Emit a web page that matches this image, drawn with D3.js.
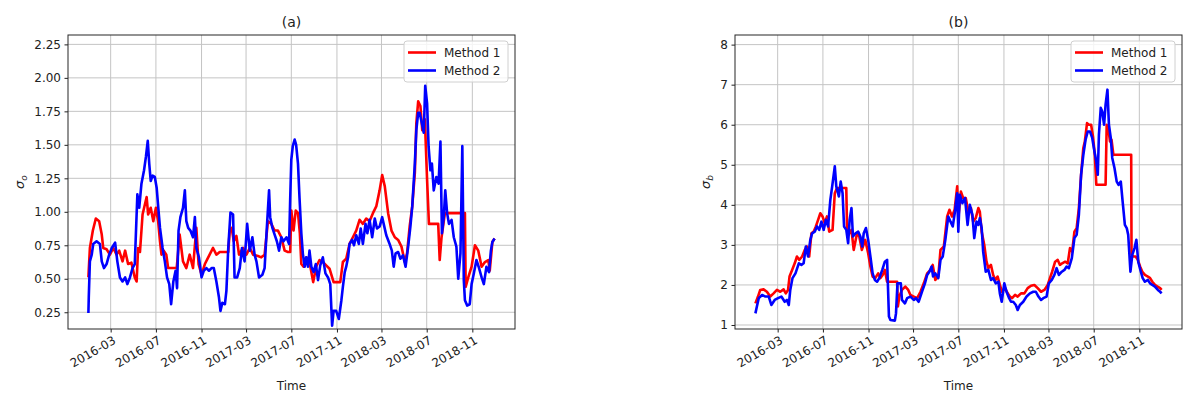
<!DOCTYPE html>
<html>
<head>
<meta charset="utf-8">
<script src="https://cdn.jsdelivr.net/npm/d3@7"></script>
<style>
  body { margin: 0; background: #fff; }
  text { font-family: "DejaVu Sans", sans-serif; }
</style>
</head>
<body>
<script>
// every series is a list of [days since startDate, value]
const startDate = "2016-01-01";
const tickLabels = ["2016-03", "2016-07", "2016-11", "2017-03", "2017-07", "2017-11", "2018-03", "2018-07", "2018-11"];
const yTicksA = [0.25, 0.5, 0.75, 1.0, 1.25, 1.5, 1.75, 2.0, 2.25];
const yTicksB = [1, 2, 3, 4, 5, 6, 7, 8];
const seriesNames = ["Method 1", "Method 2"];

// (a) sigma_o
const sigmaO_m1 = [[0,0.51],[4,0.73],[12,0.86],[20,0.95],[29,0.93],[36,0.83],[40,0.73],[49,0.72],[58,0.68],[67,0.73],
  [76,0.68],[83,0.71],[92,0.63],[99,0.71],[107,0.61],[116,0.62],[125,0.51],[130,0.48],[134,0.73],[139,0.70],
  [146,0.98],[157,1.11],[161,0.98],[168,1.03],[175,0.93],[182,1.03],[188,0.93],[193,0.78],[197,0.68],[203,0.71],
  [210,0.68],[215,0.58],[238,0.58],[246,0.83],[255,0.63],[264,0.58],[273,0.68],[282,0.58],[291,0.88],[297,0.61],
  [305,0.53],[314,0.61],[323,0.66],[336,0.73],[345,0.68],[354,0.70],[377,0.70],[381,0.86],[386,0.88],[392,0.78],
  [399,0.82],[406,0.68],[417,0.73],[426,0.68],[435,0.73],[444,0.68],[457,0.67],[466,0.66],[475,0.68],[484,0.93],
  [493,0.91],[502,0.86],[511,0.86],[520,0.81],[529,0.71],[538,0.70],[544,0.70],[547,1.01],[553,0.86],[559,1.01],
  [565,0.99],[570,0.84],[574,0.61],[580,0.59],[588,0.66],[597,0.61],[606,0.475],[614,0.59],[623,0.64],[632,0.625],
  [641,0.60],[650,0.575],[661,0.475],[679,0.475],[686,0.625],[695,0.65],[704,0.76],[713,0.81],[722,0.86],[731,0.94],
  [740,0.91],[749,0.95],[758,0.93],[767,0.99],[776,1.04],[785,1.16],[792,1.275],[799,1.19],[808,0.99],[817,0.86],
  [826,0.81],[835,0.79],[844,0.74],[853,0.625],[859,0.69],[866,0.89],[873,1.04],[880,1.29],[884,1.66],[889,1.825],
  [895,1.79],[900,1.61],[907,1.69],[913,1.24],[918,0.91],[943,0.91],[947,0.64],[952,0.81],[961,0.99],[972,0.99],
  [1015,0.99],[1017,0.44],[1024,0.51],[1033,0.59],[1042,0.75],[1051,0.71],[1060,0.59],[1069,0.625],[1078,0.64],
  [1082,0.56],[1089,0.775],[1095,0.80]];
const sigmaO_m2 = [[0,0.245],[1,0.36],[4,0.63],[9,0.68],[13,0.76],[22,0.78],[31,0.76],[36,0.63],[42,0.58],[49,0.61],
  [56,0.68],[63,0.73],[72,0.77],[78,0.63],[85,0.51],[92,0.48],[99,0.51],[105,0.46],[112,0.51],[119,0.58],
  [125,0.61],[132,1.13],[137,1.03],[143,1.21],[150,1.31],[155,1.41],[160,1.53],[164,1.36],[168,1.23],[173,1.27],
  [179,1.26],[184,1.18],[189,1.01],[193,0.88],[200,0.73],[206,0.63],[212,0.51],[218,0.46],[223,0.31],[229,0.48],
  [235,0.56],[239,0.43],[243,0.86],[248,0.96],[255,1.03],[260,1.16],[264,0.93],[269,0.88],[275,0.86],[282,0.81],
  [287,0.96],[291,0.73],[298,0.66],[305,0.51],[311,0.56],[318,0.58],[325,0.56],[332,0.58],[338,0.58],[345,0.48],
  [352,0.36],[356,0.26],[361,0.32],[368,0.31],[372,0.41],[377,0.73],[383,0.995],[390,0.98],[394,0.51],[401,0.51],
  [408,0.58],[414,0.73],[421,0.63],[428,0.91],[435,0.71],[442,0.81],[448,0.68],[453,0.63],[460,0.51],[469,0.53],
  [475,0.58],[481,0.88],[487,1.16],[490,0.96],[496,0.88],[502,0.83],[508,0.78],[514,0.71],[520,0.81],[526,0.78],
  [534,0.81],[541,0.76],[544,1.10],[547,1.39],[551,1.49],[556,1.54],[560,1.50],[565,1.36],[569,1.11],[574,0.84],
  [578,0.69],[583,0.59],[587,0.66],[592,0.59],[596,0.71],[601,0.59],[607,0.55],[613,0.61],[619,0.49],[625,0.60],
  [632,0.66],[639,0.54],[646,0.51],[652,0.46],[657,0.15],[661,0.26],[668,0.26],[675,0.20],[682,0.34],[686,0.44],
  [691,0.55],[695,0.59],[700,0.66],[704,0.76],[711,0.79],[716,0.75],[722,0.825],[729,0.76],[734,0.875],[740,0.76],
  [747,0.91],[752,0.84],[758,0.94],[765,0.81],[772,0.95],[778,0.875],[785,0.89],[792,0.96],[796,0.91],[803,0.825],
  [812,0.76],[818,0.71],[823,0.59],[828,0.69],[835,0.70],[841,0.65],[848,0.675],[855,0.59],[862,0.74],[868,0.89],
  [873,1.04],[880,1.36],[884,1.61],[889,1.74],[893,1.74],[899,1.66],[904,1.59],[908,1.94],[913,1.81],[917,1.49],
  [922,1.31],[926,1.36],[931,1.16],[938,1.26],[944,1.21],[949,1.525],[953,0.84],[958,0.96],[962,1.16],[967,0.99],
  [972,0.91],[979,0.94],[985,0.81],[992,0.74],[997,0.50],[1003,0.69],[1008,1.49],[1012,0.49],[1015,0.34],[1021,0.30],
  [1028,0.31],[1033,0.46],[1039,0.54],[1046,0.64],[1052,0.59],[1060,0.51],[1066,0.46],[1073,0.59],[1080,0.55],
  [1085,0.71],[1089,0.775],[1095,0.80]];

// (b) sigma_b
const sigmaB_m1 = [[0,1.54],[7,1.71],[13,1.875],[22,1.89],[31,1.83],[40,1.71],[49,1.79],[58,1.875],[67,1.83],[76,1.89],
  [82,1.79],[88,1.875],[92,2.21],[99,2.375],[106,2.54],[112,2.71],[118,2.625],[126,2.71],[133,2.875],[139,2.96],
  [145,2.71],[151,3.29],[157,3.33],[163,3.46],[169,3.625],[175,3.79],[181,3.71],[187,3.54],[193,3.71],[199,3.33],
  [208,3.375],[214,4.29],[220,4.42],[245,4.42],[247,3.46],[251,3.25],[259,3.375],[265,2.875],[274,3.29],[280,3.21],
  [287,2.875],[296,3.125],[304,2.79],[310,2.46],[316,2.21],[323,2.17],[331,2.29],[337,2.17],[343,2.25],[349,2.375],
  [355,2.08],[382,2.08],[384,1.46],[388,1.71],[395,1.875],[404,1.96],[412,1.875],[418,1.75],[427,1.71],[436,1.67],
  [445,1.83],[454,2.04],[463,2.29],[472,2.375],[478,2.5],[485,2.125],[493,2.21],[499,2.875],[508,2.96],[517,3.71],
  [523,3.875],[530,3.71],[537,3.875],[544,4.46],[547,3.67],[554,4.33],[560,4.17],[567,4.17],[574,3.83],[581,3.92],
  [587,3.58],[594,3.67],[601,3.92],[605,3.83],[610,3.33],[617,3.0],[623,2.58],[628,2.42],[635,2.5],[641,2.25],
  [647,2.125],[653,2.21],[659,2.0],[665,1.83],[673,1.92],[680,1.79],[686,1.71],[692,1.67],[700,1.75],[707,1.71],
  [716,1.79],[725,1.79],[734,1.92],[743,1.98],[752,2.0],[761,1.92],[770,1.83],[779,1.875],[788,2.0],[794,2.17],
  [800,2.33],[808,2.58],[815,2.625],[821,2.5],[827,2.54],[835,2.58],[842,2.54],[848,2.92],[854,2.83],[860,3.33],
  [866,3.42],[872,3.92],[878,4.75],[884,5.42],[888,5.58],[894,6.04],[899,6.0],[905,6.0],[910,5.71],[915,5.25],
  [919,4.5],[944,4.5],[947,6.0],[951,5.92],[956,5.58],[960,5.625],[965,5.25],[1013,5.25],[1014,2.75],[1019,2.71],
  [1025,2.71],[1031,2.625],[1037,2.46],[1043,2.33],[1050,2.25],[1058,2.21],[1064,2.17],[1070,2.08],[1077,2.0],
  [1084,1.96],[1091,1.92],[1095,1.875]];
const sigmaB_m2 = [[0,1.29],[4,1.46],[9,1.67],[18,1.75],[27,1.71],[36,1.71],[43,1.5],[52,1.625],[61,1.67],[70,1.71],
  [79,1.58],[85,1.625],[90,1.5],[94,1.875],[100,2.17],[108,2.29],[117,2.54],[124,2.5],[130,2.54],[136,2.96],
  [142,2.71],[148,3.125],[153,3.29],[160,3.33],[166,3.46],[172,3.375],[178,3.58],[184,3.375],[190,3.625],[196,3.46],
  [202,4.125],[207,4.46],[214,4.96],[218,4.46],[225,4.21],[230,4.58],[235,4.29],[239,3.46],[245,3.375],[250,3.04],
  [254,3.625],[259,3.92],[263,3.21],[270,3.29],[277,3.33],[283,3.21],[288,2.96],[292,3.29],[298,3.42],[304,3.125],
  [310,2.71],[316,2.29],[322,2.125],[328,2.08],[334,2.17],[342,2.375],[349,2.58],[355,2.625],[360,1.21],[364,1.125],
  [376,1.11],[379,1.29],[383,2.04],[392,2.04],[395,1.625],[403,1.54],[409,1.67],[418,1.71],[427,1.625],[433,1.67],
  [440,1.58],[449,1.83],[457,2.04],[463,2.25],[469,2.33],[475,2.46],[479,2.21],[485,2.29],[493,2.17],[499,2.625],
  [505,2.71],[512,3.125],[520,3.71],[526,3.58],[532,3.46],[538,3.83],[544,4.29],[547,3.33],[551,4.25],[558,4.04],
  [565,4.17],[572,3.5],[578,4.0],[585,3.75],[590,3.17],[596,3.58],[601,3.5],[605,3.67],[610,3.42],[614,2.83],
  [621,2.33],[628,2.375],[635,2.125],[641,2.17],[648,2.04],[655,2.08],[659,1.79],[664,1.58],[671,2.04],[677,1.83],
  [684,1.67],[689,1.58],[695,1.58],[702,1.5],[707,1.375],[713,1.5],[722,1.58],[731,1.71],[740,1.79],[749,1.83],
  [756,1.83],[763,1.71],[770,1.625],[776,1.67],[785,1.71],[791,2.04],[799,2.125],[806,2.25],[812,2.42],[818,2.25],
  [826,2.33],[833,2.375],[839,2.46],[845,2.42],[853,2.67],[860,3.17],[866,3.25],[872,3.75],[878,4.75],[884,5.25],
  [890,5.625],[896,5.83],[902,5.83],[908,5.67],[914,5.33],[919,5.08],[923,4.75],[926,5.75],[931,6.42],[935,6.33],
  [940,6.0],[944,6.5],[949,6.875],[953,6.0],[958,5.67],[962,5.17],[968,4.92],[974,4.58],[979,4.5],[985,4.58],
  [990,4.08],[996,3.5],[1001,3.42],[1005,3.25],[1011,2.33],[1016,2.75],[1022,2.92],[1027,3.125],[1032,2.58],
  [1039,2.33],[1044,2.17],[1050,2.08],[1058,2.125],[1064,2.04],[1070,2.0],[1077,1.96],[1085,1.875],[1091,1.83],
  [1095,1.79]];

const W = 1200, H = 408;
const colors = ["#ff0000", "#0000ff"];
const textColor = "#222";

const svg = d3.select("body").append("svg")
  .attr("width", W)
  .attr("height", H);

const parseDay = d3.utcParse("%Y-%m-%d");
const parseMonth = d3.utcParse("%Y-%m");
const base = parseDay(startDate);
const toDate = d => d3.utcDay.offset(base, d);
const tickDates = tickLabels.map(parseMonth);
const xDomain = [toDate(-55), toDate(1150)];

const panels = [
  { left: 68, right: 515, top: 35, bottom: 329, yDomain: [0.125, 2.32], yTicks: yTicksA, fmt: d3.format(".2f"),
    title: "(a)", sub: "o", ylabX: 24, series: [sigmaO_m1, sigmaO_m2], legendX: 404 },
  { left: 735, right: 1182, top: 35, bottom: 329, yDomain: [0.9, 8.24], yTicks: yTicksB, fmt: d3.format("d"),
    title: "(b)", sub: "b", ylabX: 710, series: [sigmaB_m1, sigmaB_m2], legendX: 1071 }
];

function drawPanel(p, idx) {
  const x = d3.scaleUtc().domain(xDomain).range([p.left, p.right]);
  const y = d3.scaleLinear().domain(p.yDomain).range([p.bottom, p.top]);
  const g = svg.append("g");

  // grid
  g.append("g").selectAll("line").data(tickDates).join("line")
    .attr("x1", d => x(d)).attr("x2", d => x(d))
    .attr("y1", p.top).attr("y2", p.bottom)
    .attr("stroke", "#c4c4c4").attr("stroke-width", 1);
  g.append("g").selectAll("line").data(p.yTicks).join("line")
    .attr("x1", p.left).attr("x2", p.right)
    .attr("y1", d => y(d)).attr("y2", d => y(d))
    .attr("stroke", "#c4c4c4").attr("stroke-width", 1);

  // series
  const clipId = "clip" + idx;
  svg.append("clipPath").attr("id", clipId).append("rect")
    .attr("x", p.left).attr("y", p.top)
    .attr("width", p.right - p.left).attr("height", p.bottom - p.top);

  const line = d3.line()
    .x(d => x(toDate(d[0])))
    .y(d => y(d[1]));

  g.append("g").attr("clip-path", `url(#${clipId})`)
    .selectAll("path").data(p.series).join("path")
    .attr("d", line)
    .attr("fill", "none")
    .attr("stroke", (d, i) => colors[i])
    .attr("stroke-width", 2.6)
    .attr("stroke-linejoin", "round");

  // axes
  const xAxis = d3.axisBottom(x)
    .tickValues(tickDates)
    .tickFormat(d3.utcFormat("%Y-%m"))
    .tickSize(3.5);
  const gx = g.append("g")
    .attr("transform", `translate(0,${p.bottom})`)
    .call(xAxis);
  gx.select(".domain").remove();
  gx.selectAll("line").attr("stroke", textColor);
  gx.selectAll("text")
    .attr("x", 0).attr("y", 0).attr("dy", "0.75em")
    .attr("text-anchor", "end")
    .attr("transform", "translate(1,6) rotate(-30)")
    .attr("fill", textColor)
    .attr("font-size", 12)
    .attr("font-family", "DejaVu Sans");

  const yAxis = d3.axisLeft(y)
    .tickValues(p.yTicks)
    .tickFormat(p.fmt)
    .tickSize(3.5)
    .tickPadding(3.5);
  const gy = g.append("g")
    .attr("transform", `translate(${p.left},0)`)
    .call(yAxis);
  gy.select(".domain").remove();
  gy.selectAll("line").attr("stroke", textColor);
  gy.selectAll("text")
    .attr("fill", textColor)
    .attr("font-size", 12)
    .attr("font-family", "DejaVu Sans");

  // spines
  g.append("rect")
    .attr("x", p.left).attr("y", p.top)
    .attr("width", p.right - p.left).attr("height", p.bottom - p.top)
    .attr("fill", "none").attr("stroke", "#262626").attr("stroke-width", 1);

  // labels
  const cx = (p.left + p.right) / 2;
  g.append("text").attr("x", cx).attr("y", 27)
    .attr("text-anchor", "middle").attr("font-size", 14).attr("fill", textColor)
    .text(p.title);
  g.append("text").attr("x", cx).attr("y", 389.5)
    .attr("text-anchor", "middle").attr("font-size", 12).attr("fill", textColor)
    .text("Time");
  const yl = g.append("text")
    .attr("transform", `translate(${p.ylabX},${(p.top + p.bottom) / 2}) rotate(-90)`)
    .attr("text-anchor", "middle").attr("font-size", 13).attr("fill", textColor)
    .attr("font-style", "italic");
  yl.append("tspan").text("σ");
  yl.append("tspan").attr("font-size", 9).attr("dy", 3).text(p.sub);

  // legend
  const lg = g.append("g").attr("transform", `translate(${p.legendX},41)`);
  lg.append("rect")
    .attr("width", 104).attr("height", 41).attr("rx", 3)
    .attr("fill", "#fff").attr("fill-opacity", 0.8)
    .attr("stroke", "#d0d0d0").attr("stroke-width", 1);
  const items = lg.selectAll("g").data(seriesNames).join("g")
    .attr("transform", (d, i) => `translate(0,${11.5 + i * 18})`);
  items.append("line")
    .attr("x1", 4).attr("x2", 32)
    .attr("stroke", (d, i) => colors[i]).attr("stroke-width", 2.6);
  items.append("text")
    .attr("x", 40).attr("dy", "0.35em")
    .attr("font-size", 12).attr("fill", textColor)
    .text(d => d);
}

panels.forEach(drawPanel);
</script>
</body>
</html>
